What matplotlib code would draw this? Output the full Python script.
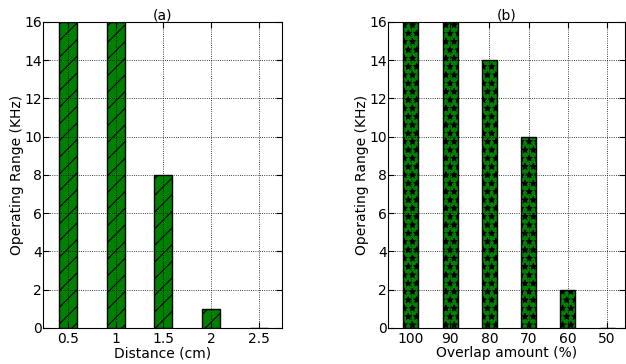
import numpy as np
from matplotlib import pyplot as plt
import matplotlib

matplotlib.rcParams['font.family'] = ['DejaVu Sans']
matplotlib.rcParams['hatch.linewidth'] = 0.8

# (a) 距离
distance = [0.5, 1, 1.5, 2, 2.5]
range_a = [16, 16, 8, 1, 0]
# (b) 重叠量
overlap = ['100', '90', '80', '70', '60', '50']
range_b = [16, 16, 14, 10, 2, 0]

fig = plt.figure(figsize=(6.26, 3.64), dpi=100)
ax1 = fig.add_axes([0.069, 0.099, 0.381, 0.841])
ax2 = fig.add_axes([0.620, 0.099, 0.378, 0.841])

ax1.bar(distance, range_a, width=0.19, color='#008000', edgecolor='black', hatch='//', zorder=1)
ax1.set_xlim(0.24, 2.74)
ax1.set_xticks(distance)
ax1.set_xticklabels(['0.5', '1', '1.5', '2', '2.5'])
ax1.set_xlabel('Distance (cm)', labelpad=0)
ax1.set_title('(a)', fontsize=10, pad=2)

x = np.arange(len(overlap))
ax2.bar(x, range_b, width=0.38, color='#008000', edgecolor='black', hatch='**', zorder=1)
ax2.set_xlim(-0.58, 5.45)
ax2.set_xticks(x)
ax2.set_xticklabels(overlap)
ax2.set_xlabel('Overlap amount (%)', labelpad=0)
ax2.set_title('(b)', fontsize=10, pad=2)

for ax in (ax1, ax2):
    ax.set_axisbelow(False)
    ax.set_ylim(0, 16)
    ax.set_yticks(range(0, 17, 2))
    ax.set_ylabel('Operating Range (KHz)', labelpad=0)
    ax.grid(True, color='black', linestyle=':', linewidth=0.6, zorder=5)
    ax.tick_params(direction='in', top=True, right=True, length=4, labelsize=10)
    ax.tick_params(axis='x', pad=3)
    ax.tick_params(axis='y', pad=1)
    ax.xaxis.label.set_size(10)
    ax.yaxis.label.set_size(10)

plt.savefig('out.png')
